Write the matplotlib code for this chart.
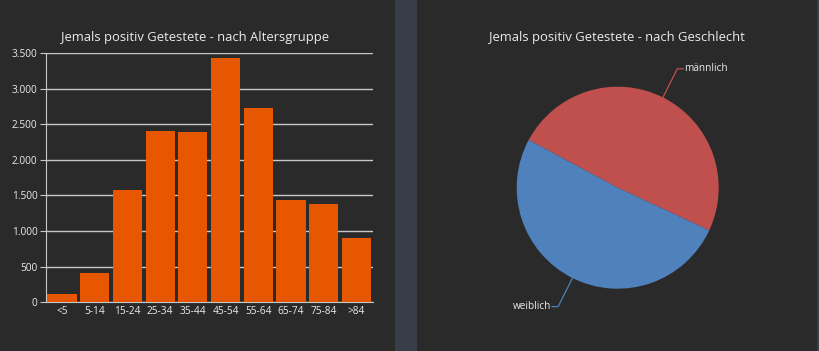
import numpy as np
import matplotlib.pyplot as plt
from matplotlib.patches import Rectangle
from matplotlib.ticker import FuncFormatter

# Altersgruppen
age_groups = ['<5', '5-14', '15-24', '25-34', '35-44', '45-54', '55-64', '65-74', '75-84', '>84']
age_counts = [115, 416, 1577, 2400, 2391, 3430, 2728, 1441, 1376, 907]

# Geschlecht
sex_labels = ['männlich', 'weiblich']
sex_counts = [8240, 8541]

bg_outer = '#373e48'
bg_panel = '#2a2a2a'
text_col = '#ebebeb'
grid_col = '#c8c8c8'
bar_col = '#e65700'
pie_cols = ['#c0504d', '#4f81bd']

W, H = 820, 351
fig = plt.figure(figsize=(W / 100, H / 100), dpi=100)
fig.patch.set_facecolor(bg_outer)
plt.rcParams['font.family'] = ['Open Sans', 'DejaVu Sans']

# Panels
fig.add_artist(Rectangle((0, 0), 395 / W, 1, transform=fig.transFigure,
                         facecolor=bg_panel, edgecolor='none', zorder=0))
fig.add_artist(Rectangle((417 / W, 0), 400 / W, 1, transform=fig.transFigure,
                         facecolor=bg_panel, edgecolor='none', zorder=0))


def px_axes(x0, y_top, w, h):
    return fig.add_axes([x0 / W, (H - y_top - h) / H, w / W, h / H])


# Bar chart
ax = px_axes(45.7, 53, 327, 249.3)
ax.set_facecolor('none')
x = np.arange(len(age_groups))
ax.bar(x, age_counts, width=0.89, color=bar_col, zorder=3)
ax.set_xlim(-0.5, len(age_groups) - 0.5)
ax.set_ylim(0, 3500)
ax.set_yticks(np.arange(0, 3501, 500))
ax.yaxis.set_major_formatter(FuncFormatter(lambda v, p: f'{int(v):,}'.replace(',', '.')))
ax.set_xticks(x)
ax.set_xticklabels(age_groups)
ax.grid(axis='y', color=grid_col, linewidth=1, zorder=0)
for s in ['top', 'right']:
    ax.spines[s].set_visible(False)
for s in ['left', 'bottom']:
    ax.spines[s].set_color(grid_col)
ax.tick_params(axis='y', colors=text_col, labelsize=7.3, length=4, color=grid_col, pad=2)
ax.tick_params(axis='x', colors=text_col, labelsize=7.3, length=0, pad=3)
fig.text(195 / W, 1 - 38 / H, 'Jemals positiv Getestete - nach Altersgruppe',
         ha='center', va='center', color=text_col, fontsize=9.4)

# Pie chart
cx, cy = 617.7, 187.7
pax = px_axes(cx - 150, cy - 150, 300, 300)
pax.axis('off')
wedges, _ = pax.pie(sex_counts, colors=pie_cols, startangle=-25, counterclock=True,
                    radius=1.01, wedgeprops=dict(linewidth=0))
pax.set_xlim(-1.5, 1.5)
pax.set_ylim(-1.5, 1.5)
for w, lab, col in zip(wedges, sex_labels, pie_cols):
    ang = np.deg2rad((w.theta1 + w.theta2) / 2)
    ex, ey = np.cos(ang) * 1.01, np.sin(ang) * 1.01
    bx, by = np.cos(ang) * 1.33, np.sin(ang) * 1.33
    sgn = 1 if bx > 0 else -1
    tx = bx + sgn * 0.06
    pax.plot([ex, bx, tx], [ey, by, by], color=col, linewidth=0.9, clip_on=False)
    pax.text(tx + sgn * 0.01, by, lab, ha='left' if sgn > 0 else 'right', va='center',
             color=text_col, fontsize=7.2)
fig.text(617 / W, 1 - 38 / H, 'Jemals positiv Getestete - nach Geschlecht',
         ha='center', va='center', color=text_col, fontsize=9.4)

fig.savefig('out.png', dpi=100, facecolor=fig.get_facecolor())
